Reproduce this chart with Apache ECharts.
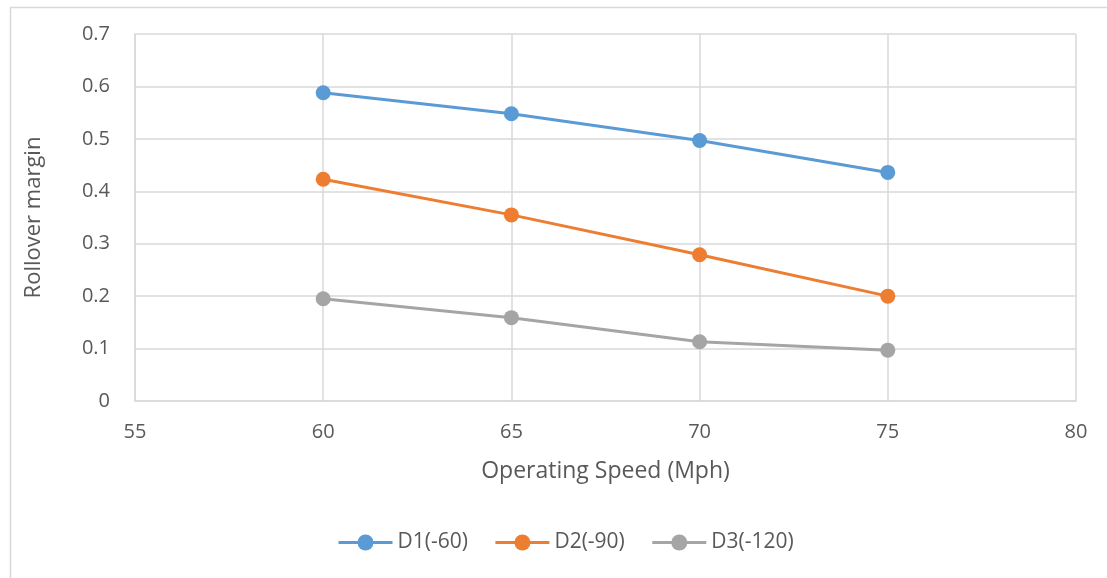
<!DOCTYPE html>
<html>
<head>
<meta charset="utf-8">
<script src="https://cdn.jsdelivr.net/npm/echarts@6/dist/echarts.min.js"></script>
<style>
html,body{margin:0;padding:0;background:#fff;}
#c{width:1107px;height:578px;}
</style>
</head>
<body>
<div id="c"></div>
<script>
const speeds = [60, 65, 70, 75];
const seriesNames = ['D1(-60)', 'D2(-90)', 'D3(-120)'];
const d1 = [0.588, 0.548, 0.497, 0.436];
const d2 = [0.423, 0.355, 0.279, 0.200];
const d3 = [0.195, 0.159, 0.113, 0.097];
const colors = ['#5B9BD5', '#ED7D31', '#A5A5A5'];
const xTicks = [55, 60, 65, 70, 75, 80];
const yTicks = [0, 0.1, 0.2, 0.3, 0.4, 0.5, 0.6, 0.7];

const font = '"Open Sans", "DejaVu Sans", sans-serif';
const values = [d1, d2, d3];
const chart = echarts.init(document.getElementById('c'), null, {renderer: 'canvas'});
chart.setOption({
  animation: false,
  backgroundColor: '#fff',
  textStyle: {fontFamily: font},
  graphic: [{
    type: 'rect', left: 8, top: 5, silent: true,
    shape: {width: 1200, height: 1000},
    style: {fill: 'none', stroke: '#d9d9d9', lineWidth: 1.5}
  }],
  grid: {left: 135, right: 31, top: 34, bottom: 177, containLabel: false},
  legend: {
    bottom: 20, left: 332,
    itemWidth: 54, itemHeight: 20, itemGap: 26,
    lineStyle: {width: 3},
    textStyle: {fontFamily: font, fontSize: 21, color: '#595959'},
    data: seriesNames
  },
  xAxis: {
    type: 'value', min: xTicks[0], max: xTicks[xTicks.length - 1], interval: 5,
    name: 'Operating Speed (Mph)', nameLocation: 'middle', nameGap: 59,
    nameTextStyle: {fontFamily: font, fontSize: 23, color: '#595959'},
    axisLine: {show: true, lineStyle: {color: '#d9d9d9', width: 1.5}},
    axisTick: {show: false},
    axisLabel: {fontFamily: font, fontSize: 20, color: '#595959', margin: 21},
    splitLine: {show: true, lineStyle: {color: '#d9d9d9', width: 1.5}}
  },
  yAxis: {
    type: 'value', min: yTicks[0], max: yTicks[yTicks.length - 1], interval: 0.1,
    name: 'Rollover margin', nameLocation: 'middle', nameGap: 90,
    nameTextStyle: {fontFamily: font, fontSize: 22, color: '#595959'},
    axisLine: {show: true, lineStyle: {color: '#d9d9d9', width: 1.5}},
    axisTick: {show: false},
    axisLabel: {fontFamily: font, fontSize: 20, color: '#595959', margin: 25,
      formatter: v => String(Math.round(v * 10) / 10)},
    splitLine: {show: true, lineStyle: {color: '#d9d9d9', width: 1.5}}
  },
  series: seriesNames.map((n, i) => ({
    name: n, type: 'line',
    data: speeds.map((s, j) => [s, values[i][j]]),
    symbol: 'circle', symbolSize: 15,
    lineStyle: {color: colors[i], width: 3},
    itemStyle: {color: colors[i]},
    z: 3 - i
  }))
});
</script>
</body>
</html>
